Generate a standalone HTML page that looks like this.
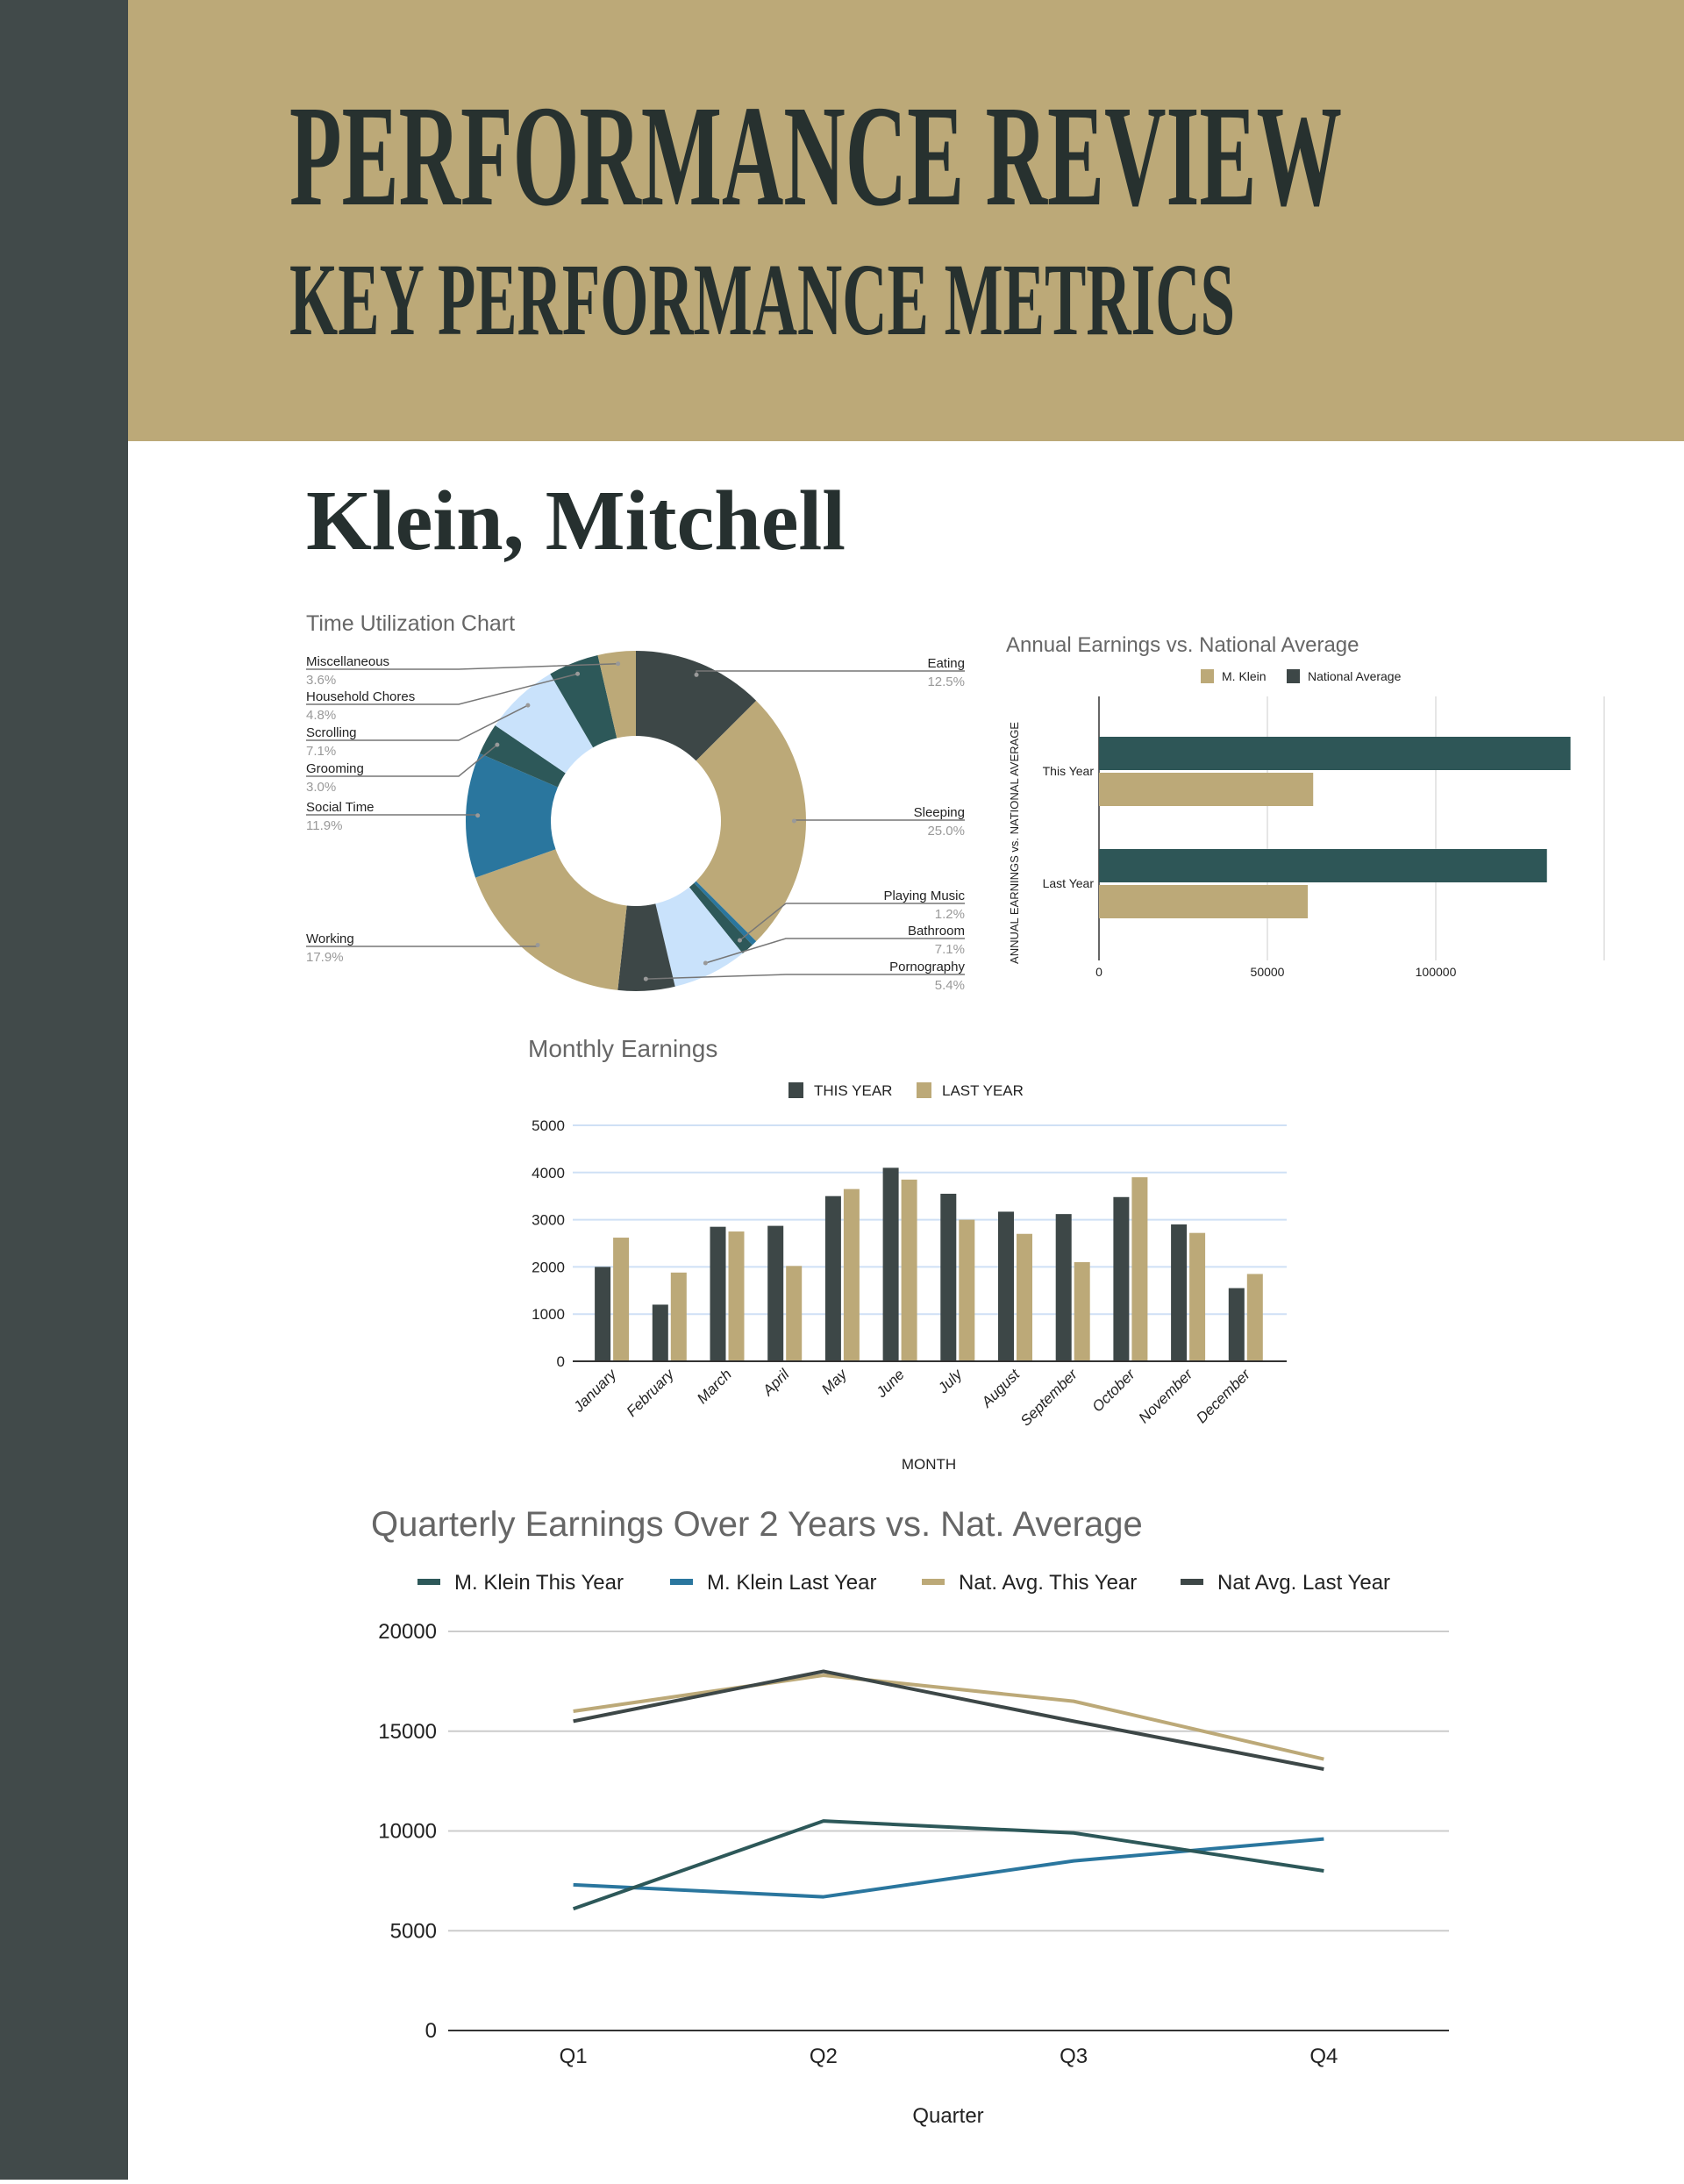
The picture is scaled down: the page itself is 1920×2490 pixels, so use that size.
<!DOCTYPE html>
<html><head><meta charset="utf-8">
<style>
html,body{margin:0;padding:0;background:#fff;}
body{width:1920px;height:2485px;overflow:hidden;}
svg text{font-family:"Liberation Sans",sans-serif;}
</style></head>
<body>
<svg id="page" xmlns="http://www.w3.org/2000/svg" width="1920" height="2485" viewBox="0 0 1920 2485">
<rect x="0" y="0" width="1920" height="2485" fill="#ffffff"/>
<rect x="0" y="0" width="146" height="2485" fill="#414a4a"/>
<rect x="146" y="0" width="1774" height="503" fill="#bca978"/>
<text x="330" y="233" font-weight="bold" font-size="165" fill="#27312f" textLength="1200" lengthAdjust="spacingAndGlyphs" style="font-family:'Liberation Serif',serif">PERFORMANCE REVIEW</text>
<text x="330" y="381" font-weight="bold" font-size="118" fill="#27312f" textLength="1078" lengthAdjust="spacingAndGlyphs" style="font-family:'Liberation Serif',serif">KEY PERFORMANCE METRICS</text>
<text x="349" y="626" font-weight="bold" font-size="98" fill="#26302f" textLength="615" lengthAdjust="spacingAndGlyphs" style="font-family:'Liberation Serif',serif">Klein, Mitchell</text>

<g id="donut">
<text x="349" y="719" font-size="25" fill="#666">Time Utilization Chart</text>
</g>
<g id="annual" transform="translate(2,1)">
<text x="1145" y="742" font-size="24" fill="#666">Annual Earnings vs. National Average</text>
</g>
<g id="monthly" transform="translate(0,3)">
<text x="602" y="1202" font-size="28" fill="#666">Monthly Earnings</text>
</g>
<g id="quarterly" transform="translate(0,5)">
<text x="423" y="1746" font-size="40" fill="#666">Quarterly Earnings Over 2 Years vs. Nat. Average</text>
</g>
</svg>
<script>
// ---------- Donut data ----------
const pieLabels = ["Eating","Sleeping","","Playing Music","Bathroom","Pornography","Working","Social Time","Grooming","Scrolling","Household Chores","Miscellaneous"];
const pieValues = [12.5,25.0,0.5,1.2,7.1,5.4,17.9,11.9,3.0,7.1,4.8,3.6];
const pieText = ["12.5%","25.0%","","1.2%","7.1%","5.4%","17.9%","11.9%","3.0%","7.1%","4.8%","3.6%"];
// ---------- Annual bars ----------
const annualCats = ["This Year","Last Year"];
const annualKlein = [63600,62000];
const annualNational = [140000,133000];
const annualTicks = [0,50000,100000,150000];
// ---------- Monthly bars ----------
const months = ["January","February","March","April","May","June","July","August","September","October","November","December"];
const monthThisYear = [2000,1200,2850,2870,3500,4100,3550,3170,3120,3480,2900,1550];
const monthLastYear = [2620,1880,2750,2020,3650,3850,3000,2700,2100,3900,2720,1850];
const monthTicks = [0,1000,2000,3000,4000,5000];
// ---------- Quarterly lines ----------
const quarters = ["Q1","Q2","Q3","Q4"];
const kleinThisYear = [6100,10500,9900,8000];
const kleinLastYear = [7300,6700,8500,9600];
const natThisYear = [16000,17800,16500,13600];
const natLastYear = [15500,18000,15500,13100];
const quarterTicks = [0,5000,10000,15000,20000];

const NS="http://www.w3.org/2000/svg";
function mk(tag, attrs, parent){const e=document.createElementNS(NS,tag);for(const k in attrs)e.setAttribute(k,attrs[k]);parent.appendChild(e);return e;}

// ===== Donut =====
(function(){
const g=document.getElementById('donut');
const cx=725, cy=936, Ro=194, Ri=97;
const colors=["#3d4747","#bca978","#2a769e","#2d5859","#c9e2fb","#3d4747","#bca978","#2a769e","#2d5859","#c9e2fb","#2d5859","#bca978"];
const total=pieValues.reduce((a,b)=>a+b,0);
const layout=[["R",757,null],["R",927,null],null,["R",1022,896],["R",1062,896],["R",1103,896],["L",1071,null],["L",921,null],["L",877,523],["L",836,523],["L",795,523],["L",755,523]];
let a0=-Math.PI/2;
pieValues.forEach((v,i)=>{
  const a1=a0+v/total*2*Math.PI;
  const large=(a1-a0)>Math.PI?1:0;
  const p=(r,a)=>[cx+r*Math.cos(a),cy+r*Math.sin(a)];
  const [x1,y1]=p(Ro,a0),[x2,y2]=p(Ro,a1),[x3,y3]=p(Ri,a1),[x4,y4]=p(Ri,a0);
  const s=mk('path',{d:`M${x1},${y1}A${Ro},${Ro} 0 ${large} 1 ${x2},${y2}L${x3},${y3}A${Ri},${Ri} 0 ${large} 0 ${x4},${y4}Z`,fill:colors[i]},g);
  
  
  const L=layout[i];
  if(L){
    const am=(a0+a1)/2;
    const [dx,dy]=p(Ro*0.93,am);
    const ly=L[1]+8;
    let pts;
    if(L[0]==="L"){
      const ex=L[2]===null?dx:Math.min(L[2],dx);
      pts=`349,${ly} ${ex},${ly} ${dx},${dy}`;
    } else {
      const ex=L[2]===null?dx:Math.max(L[2],dx);
      pts=`1100,${ly} ${ex},${ly} ${dx},${dy}`;
    }
    const ln=mk('polyline',{points:pts,fill:'none',stroke:'#777','stroke-width':1.5},g);
    
    
    const dot=mk('circle',{cx:dx,cy:dy,r:2.5,fill:'#999'},g);
    
    
    const anchor=L[0]==="L"?"start":"end", tx=L[0]==="L"?349:1100;
    const t=mk('text',{x:tx,y:L[1]+4,'font-size':15,fill:'#222','text-anchor':anchor},g);
    t.textContent=pieLabels[i];
    
    
    const t2=mk('text',{x:tx,y:L[1]+25,'font-size':15,fill:'#999','text-anchor':anchor},g);
    t2.textContent=pieText[i];
    
    
  }
  a0=a1;
});
})();

// ===== Annual horizontal bars =====
(function(){
const g=document.getElementById('annual');
const x0=1251, per=192/50000, top=793, bot=1094;
const xv=v=>x0+v*per;
annualTicks.forEach(t=>{
  const l=mk('line',{x1:xv(t),x2:xv(t),y1:top,y2:bot,stroke:t===0?'#333':'#ddd','stroke-width':1.5},g);
  
  
  if(t<150000){
    const tx=mk('text',{x:xv(t),y:1112,'font-size':14,fill:'#222','text-anchor':'middle'},g);
    tx.textContent=t;
    
    
  }
});
const catY=[839,967];
annualCats.forEach((c,i)=>{
  const b1=mk('rect',{x:x0,y:catY[i],width:xv(annualNational[i])-x0,height:38,fill:'#2e5657'},g);
  
  
  const b2=mk('rect',{x:x0,y:catY[i]+41,width:xv(annualKlein[i])-x0,height:38,fill:'#bca978'},g);
  
  
  const t=mk('text',{x:1245,y:catY[i]+44,'font-size':14,fill:'#222','text-anchor':'end'},g);
  t.textContent=c;
  
  
});
const yt=mk('text',{x:0,y:0,'font-size':13,fill:'#222','text-anchor':'middle',transform:'translate(1159,960) rotate(-90)'},g);
yt.textContent='ANNUAL EARNINGS vs. NATIONAL AVERAGE';


const lg=[[1367,'#bca978','M. Klein'],[1465,'#3d4747','National Average']];
lg.forEach(L=>{
  const r=mk('rect',{x:L[0],y:762,width:15,height:16,fill:L[1]},g);
  
  
  const t=mk('text',{x:L[0]+24,y:775,'font-size':14,fill:'#222'},g);
  t.textContent=L[2];
  
  
});
})();

// ===== Monthly bars =====
(function(){
const g=document.getElementById('monthly');
const y0=1549, ppu=(1549-1280)/5000, xl=653, xr=1467;
const yv=v=>y0-v*ppu;
const cxm=i=>697.6+65.7*i;
const bw=18;
monthTicks.forEach(t=>{
  if(t>0){const l=mk('line',{x1:xl,x2:xr,y1:yv(t),y2:yv(t),stroke:'#cfe0f5','stroke-width':2},g);
  
  }
  const tx=mk('text',{x:644,y:yv(t)+6,'font-size':17,fill:'#222','text-anchor':'end'},g);
  tx.textContent=t;
  
  
});
months.forEach((m,i)=>{
  const c=cxm(i);
  const b1=mk('rect',{x:c-bw-1.5,y:yv(monthThisYear[i]),width:bw,height:monthThisYear[i]*ppu,fill:'#3d4747'},g);
  
  
  const b2=mk('rect',{x:c+1.5,y:yv(monthLastYear[i]),width:bw,height:monthLastYear[i]*ppu,fill:'#bca978'},g);
  
  
  const t=mk('text',{x:0,y:0,'font-size':17,fill:'#222','text-anchor':'end','font-style':'italic',transform:`translate(${c+6},${1565}) rotate(-45)`},g);
  t.textContent=m;
  
  
});
const ax=mk('line',{x1:xl,x2:xr,y1:y0,y2:y0,stroke:'#333','stroke-width':2},g);


const xt=mk('text',{x:1059,y:1672,'font-size':17,fill:'#222','text-anchor':'middle'},g);
xt.textContent='MONTH';


[[899,'#3d4747','THIS YEAR'],[1045,'#bca978','LAST YEAR']].forEach(L=>{
  const r=mk('rect',{x:L[0],y:1231,width:17,height:18,fill:L[1]},g);
  
  
  const t=mk('text',{x:L[0]+29,y:1246,'font-size':17,fill:'#222'},g);
  t.textContent=L[2];
  
  
});
})();

// ===== Quarterly lines =====
(function(){
const g=document.getElementById('quarterly');
const y0=2310, ppu=455/20000, xl=511, xr=1652, bandW=(xr-xl)/quarters.length;
const yv=v=>y0-v*ppu;
const xq=i=>xl+bandW*(i+0.5);
quarterTicks.forEach(t=>{
  const l=mk('line',{x1:xl,x2:xr,y1:yv(t),y2:yv(t),stroke:t===0?'#333':'#ccc','stroke-width':2},g);
  
  
  const tx=mk('text',{x:498,y:yv(t)+8,'font-size':24,fill:'#222','text-anchor':'end'},g);
  tx.textContent=t;
  
  
});
quarters.forEach((q,i)=>{
  const t=mk('text',{x:xq(i),y:2347,'font-size':24,fill:'#222','text-anchor':'middle'},g);
  t.textContent=q;
  
  
});
const xt=mk('text',{x:1081,y:2415,'font-size':24,fill:'#222','text-anchor':'middle'},g);
xt.textContent='Quarter';


const series=[[natThisYear,'#bca978','nat-avg-this-year'],[natLastYear,'#3d4747','nat-avg-last-year'],[kleinLastYear,'#2a769e','klein-last-year'],[kleinThisYear,'#2d5859','klein-this-year']];
series.forEach(S=>{
  const pts=S[0].map((v,i)=>xq(i)+','+yv(v)).join(' ');
  const p=mk('polyline',{points:pts,fill:'none',stroke:S[1],'stroke-width':4,'stroke-linejoin':'round'},g);
  
  
});
[[476,'#2d5859','M. Klein This Year'],[764,'#2a769e','M. Klein Last Year'],[1051,'#bca978','Nat. Avg. This Year'],[1346,'#3d4747','Nat Avg. Last Year']].forEach(L=>{
  const r=mk('rect',{x:L[0],y:1795,width:26,height:7,fill:L[1]},g);
  
  
  const t=mk('text',{x:L[0]+42,y:1807,'font-size':24,fill:'#222'},g);
  t.textContent=L[2];
  
  
});
})();
</script>
</body></html>
